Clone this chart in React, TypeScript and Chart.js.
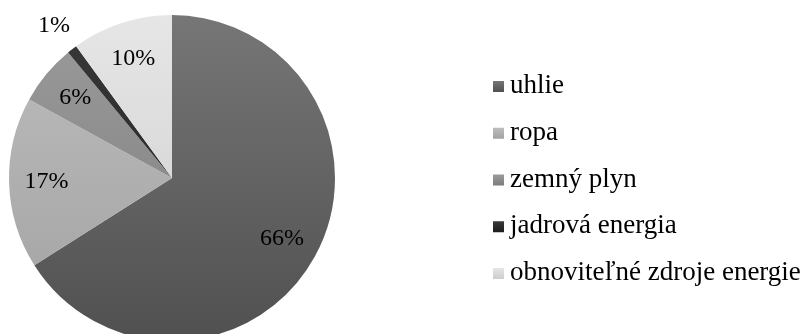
import { useEffect, useRef } from "react";
import { Chart, registerables } from "chart.js";

Chart.register(...registerables);

// ---- data ----
const categories = ["uhlie", "ropa", "zemný plyn", "jadrová energia", "obnoviteľné zdroje energie"];
const shares = [66, 17, 6, 1, 10];
const percentLabels = ["66%", "17%", "6%", "1%", "10%"];
const colorsTop = ["#767676", "#bdbdbd", "#9b9b9b", "#3a3a3a", "#e6e6e6"];
const colorsBottom = ["#505050", "#a2a2a2", "#7c7c7c", "#1c1c1c", "#cdcdcd"];

const FONT = "'Liberation Serif', 'Times New Roman', serif";

function sliceFill(ctx: any) {
  const chart = ctx.chart;
  const i = ctx.dataIndex ?? 0;
  const area = chart.chartArea;
  if (!area) return colorsTop[i];
  const g = chart.ctx.createLinearGradient(0, area.top, 0, area.bottom);
  g.addColorStop(0, colorsTop[i]);
  g.addColorStop(1, colorsBottom[i]);
  return g;
}

const percentLabelPlugin = {
  id: "percentLabels",
  afterDatasetsDraw(chart: any) {
    const meta = chart.getDatasetMeta(0);
    const ctx = chart.ctx;
    ctx.save();
    ctx.font = `24px ${FONT}`;
    ctx.fillStyle = "#000";
    ctx.textAlign = "center";
    ctx.textBaseline = "middle";
    meta.data.forEach((arc: any, i: number) => {
      const p = arc.getProps(["x", "y", "startAngle", "endAngle", "outerRadius"], true);
      const mid = (p.startAngle + p.endAngle) / 2;
      const f = shares[i] < 3 ? 1.18 : 0.77;
      const x = p.x + Math.cos(mid) * p.outerRadius * f;
      const y = p.y + Math.sin(mid) * p.outerRadius * f;
      ctx.fillText(percentLabels[i], x, y);
    });
    ctx.restore();
  },
};

const sideLegendPlugin = {
  id: "sideLegend",
  afterDraw(chart: any) {
    const ctx = chart.ctx;
    const area = chart.chartArea;
    const boxX = area.right + 158;
    const firstCenter = area.top + 71.5;
    const step = 46.75;
    const box = 11;
    ctx.save();
    ctx.font = `27px ${FONT}`;
    ctx.textAlign = "left";
    ctx.textBaseline = "alphabetic";
    categories.forEach((label, i) => {
      const cy = firstCenter + i * step;
      const top = cy - box / 2;
      const g = ctx.createLinearGradient(0, top, 0, top + box);
      g.addColorStop(0, colorsTop[i]);
      g.addColorStop(1, colorsBottom[i]);
      ctx.fillStyle = g;
      ctx.fillRect(boxX, top, box, box);
      ctx.fillStyle = "#000";
      ctx.fillText(label, boxX + box + 6, cy + 6.5);
    });
    ctx.restore();
  },
};

export default function App() {
  const canvasRef = useRef<HTMLCanvasElement | null>(null);

  useEffect(() => {
    if (!canvasRef.current) return;
    const chart = new Chart(canvasRef.current, {
      type: "pie",
      data: {
        labels: categories,
        datasets: [
          {
            data: shares,
            backgroundColor: sliceFill as any,
            borderWidth: 0,
          },
        ],
      },
      options: {
        responsive: false,
        devicePixelRatio: 1,
        animation: false,
        layout: { padding: { left: 9, top: 15, right: 467, bottom: 9 } },
        plugins: {
          legend: { display: false },
          tooltip: { enabled: false },
        },
      },
      plugins: [percentLabelPlugin, sideLegendPlugin],
    });
    return () => chart.destroy();
  }, []);

  return (
    <div
      style={{
        position: "fixed",
        left: 0,
        top: 0,
        width: 802,
        height: 334,
        overflow: "hidden",
        background: "#fff",
      }}
    >
      <canvas ref={canvasRef} width={802} height={350} style={{ display: "block" }} />
    </div>
  );
}
